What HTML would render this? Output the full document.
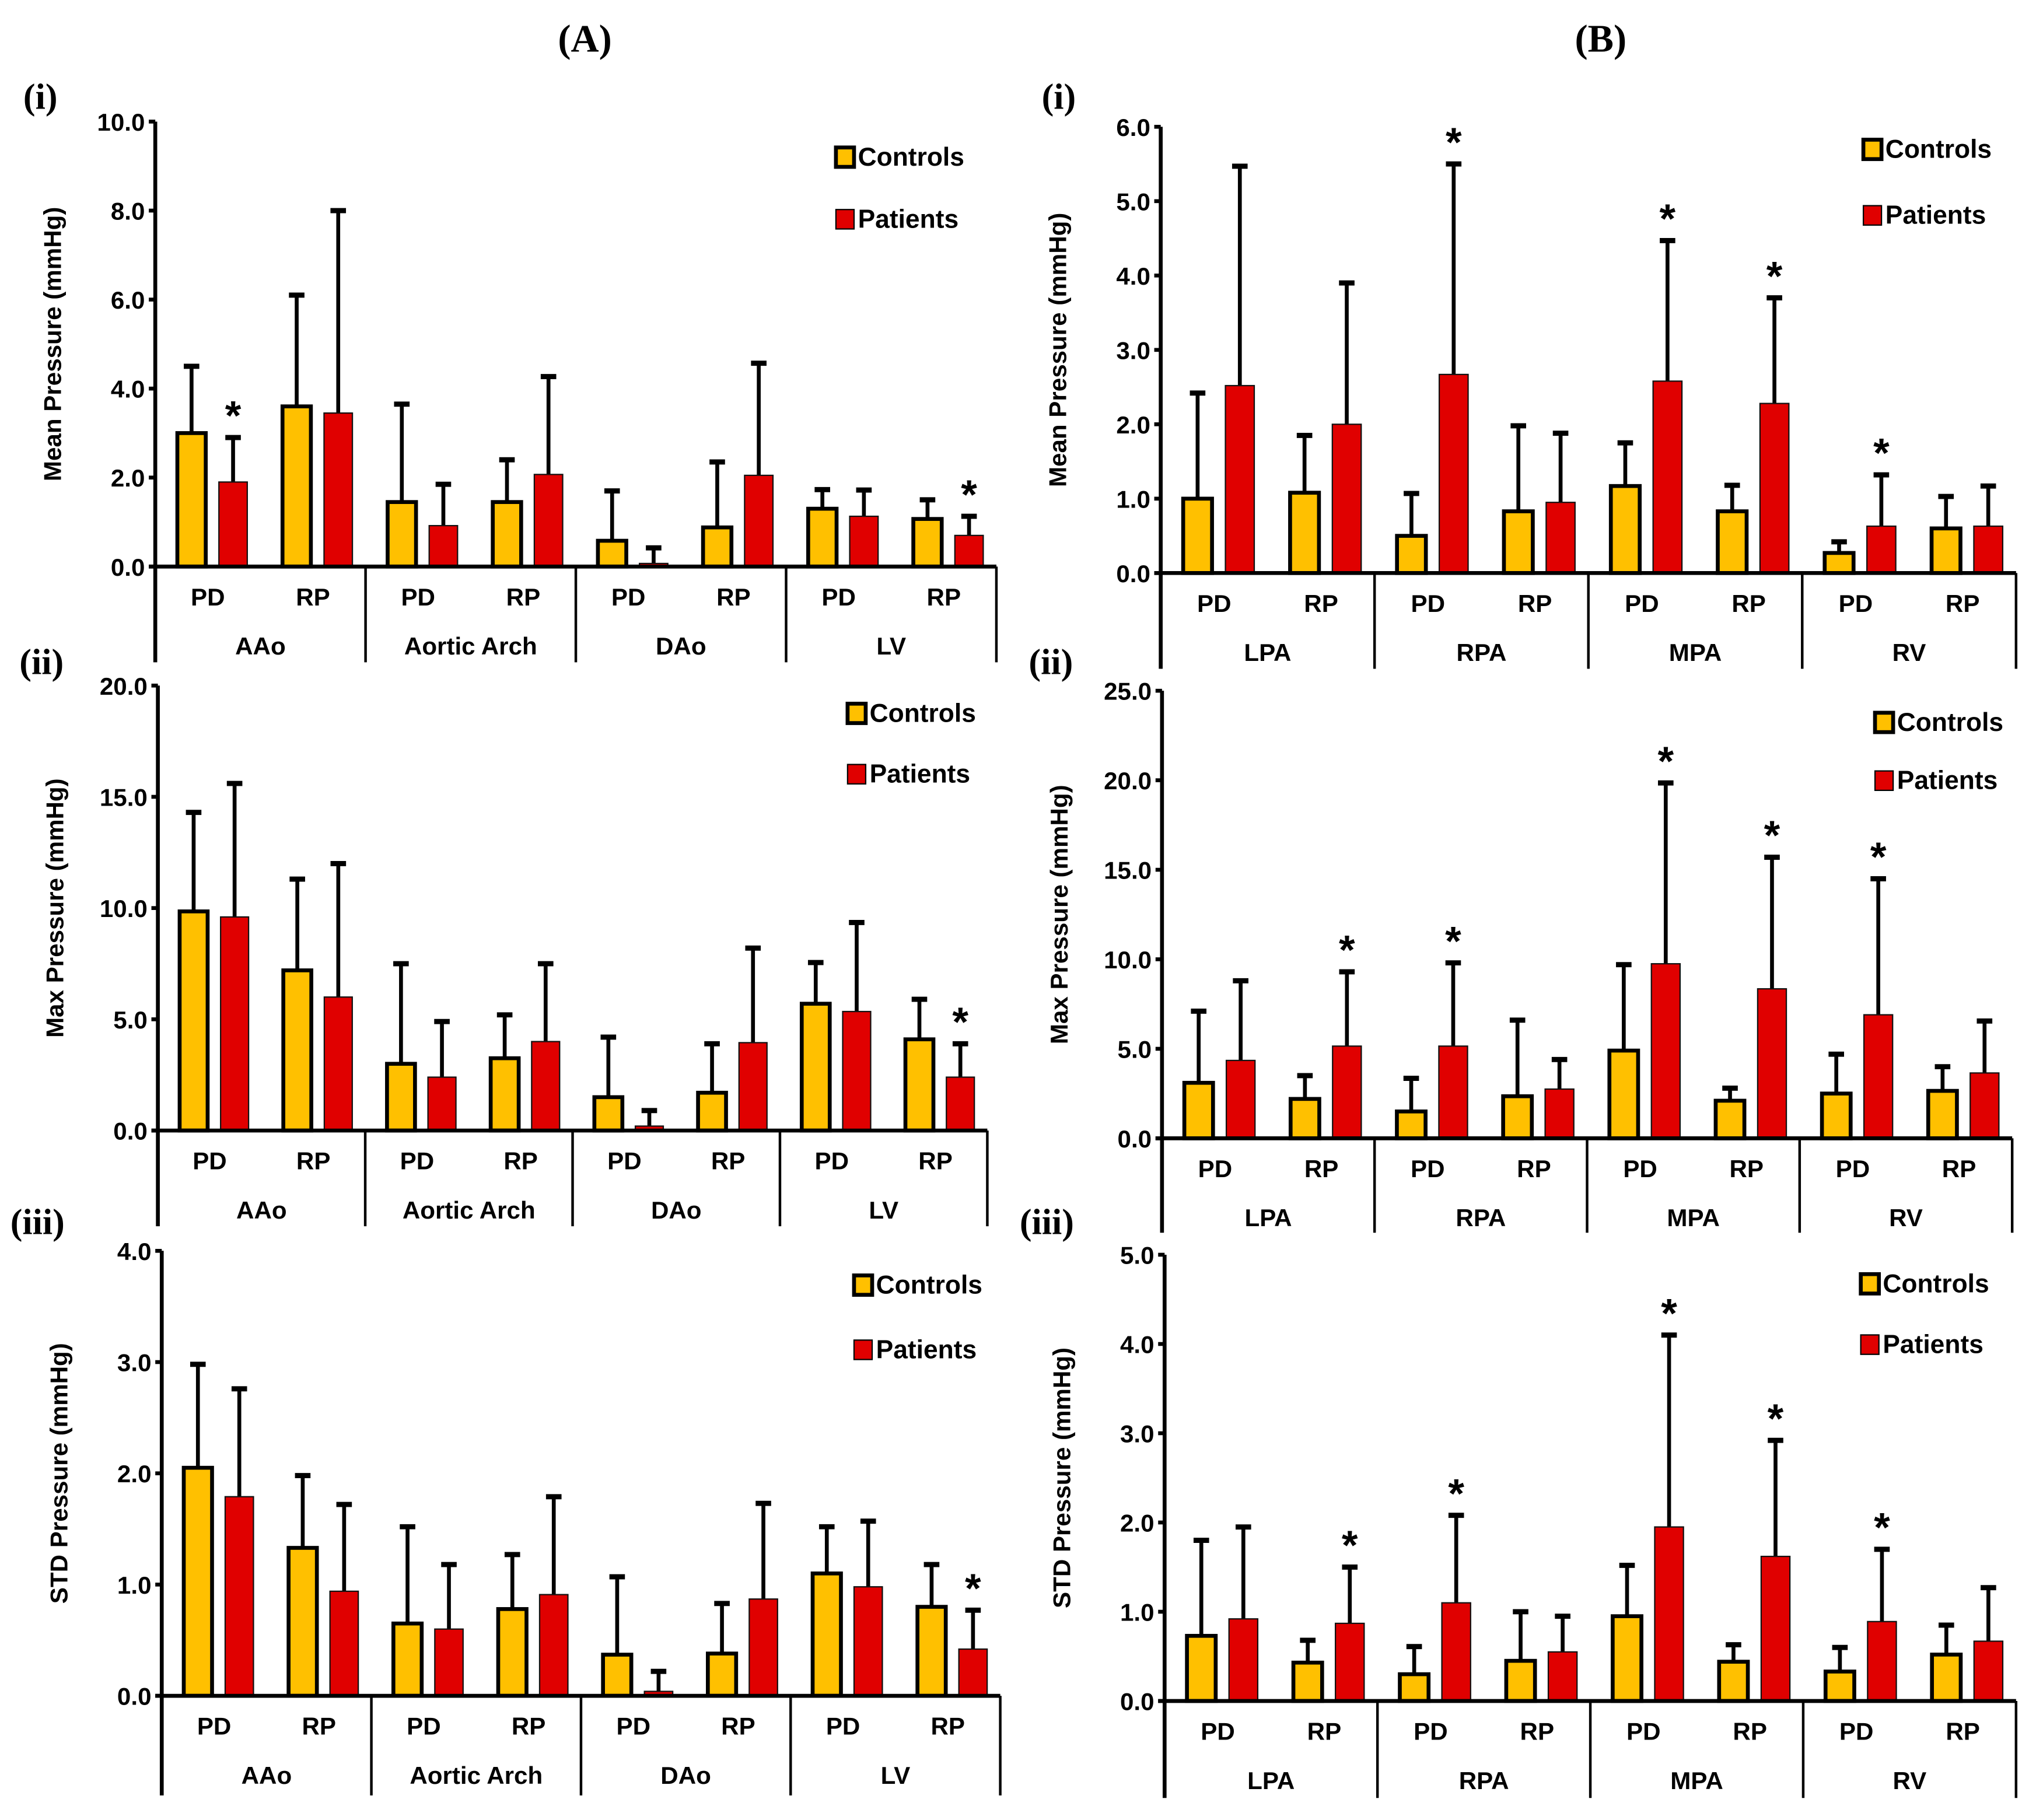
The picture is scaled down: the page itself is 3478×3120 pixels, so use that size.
<!DOCTYPE html>
<html><head><meta charset="utf-8"><style>
html,body{margin:0;padding:0;background:#fff}
svg{display:block}
text{font-family:"Liberation Sans",sans-serif;font-weight:bold;fill:#000}
.ser{font-family:"Liberation Serif",serif}
</style></head><body>
<svg id="fig" width="3478" height="3120" viewBox="0 0 1568 1407" preserveAspectRatio="none" xmlns="http://www.w3.org/2000/svg">
<text class="ser" x="452" y="40" font-size="30" text-anchor="middle">(A)</text>
<text class="ser" x="1237" y="40" font-size="30" text-anchor="middle">(B)</text>
</svg>
<script>
// ---- data ----
const groupsA = ["AAo","Aortic Arch","DAo","LV"];
const groupsB = ["LPA","RPA","MPA","RV"];
const subs = ["PD","RP"];
const aiC = [3.0,3.6,1.45,1.45,0.58,0.88,1.3,1.07];
const aiCe = [4.5,6.1,3.65,2.4,1.7,2.35,1.73,1.5];
const aiP = [1.9,3.45,0.92,2.07,0.07,2.05,1.13,0.7];
const aiPe = [2.9,8.0,1.85,4.27,0.42,4.57,1.72,1.13];
const aiS = [1,0,0,0,0,0,0,1];
const aiiC = [9.85,7.2,3.0,3.25,1.5,1.7,5.7,4.1];
const aiiCe = [14.3,11.3,7.5,5.2,4.2,3.9,7.55,5.9];
const aiiP = [9.6,6.0,2.4,4.0,0.2,3.95,5.35,2.4];
const aiiPe = [15.6,12.0,4.9,7.5,0.9,8.2,9.35,3.9];
const aiiS = [0,0,0,0,0,0,0,1];
const aiiiC = [2.05,1.33,0.65,0.78,0.37,0.38,1.1,0.8];
const aiiiCe = [2.98,1.98,1.52,1.27,1.07,0.83,1.52,1.18];
const aiiiP = [1.79,0.94,0.6,0.91,0.04,0.87,0.98,0.42];
const aiiiPe = [2.76,1.72,1.18,1.79,0.22,1.73,1.57,0.77];
const aiiiS = [0,0,0,0,0,0,0,1];
const biC = [1.0,1.08,0.5,0.83,1.17,0.83,0.27,0.6];
const biCe = [2.42,1.85,1.07,1.98,1.75,1.18,0.42,1.03];
const biP = [2.52,2.0,2.67,0.95,2.58,2.28,0.63,0.63];
const biPe = [5.47,3.9,5.5,1.88,4.47,3.7,1.32,1.17];
const biS = [0,0,1,0,1,1,1,0];
const biiC = [3.1,2.2,1.5,2.35,4.9,2.1,2.5,2.65];
const biiCe = [7.1,3.5,3.35,6.6,9.7,2.8,4.7,4.0];
const biiP = [4.35,5.15,5.15,2.75,9.75,8.35,6.9,3.65];
const biiPe = [8.8,9.3,9.8,4.4,19.85,15.7,14.5,6.55];
const biiS = [0,1,1,0,1,1,1,0];
const biiiC = [0.73,0.43,0.3,0.45,0.95,0.44,0.33,0.52];
const biiiCe = [1.8,0.68,0.61,1.0,1.52,0.63,0.6,0.85];
const biiiP = [0.92,0.87,1.1,0.55,1.95,1.62,0.89,0.67];
const biiiPe = [1.95,1.5,2.08,0.95,4.1,2.92,1.7,1.27];
const biiiS = [0,1,1,0,1,1,1,0];

const NS="http://www.w3.org/2000/svg";
const svg=document.getElementById('fig');
function mk(tag,attrs,parent,txt){const e=document.createElementNS(NS,tag);for(const k in attrs)e.setAttribute(k,attrs[k]);if(txt!==undefined)e.textContent=txt;(parent||svg).appendChild(e);return e;}

function panel(p){
  const g=mk('g',{});
  
  
  const ys=v=>p.y0-(v/p.max)*(p.y0-p.top);
  const L=mk('text',{x:p.lx,y:p.ly,'font-size':28,class:'ser'},g,p.label);
  
  
  for(let v=0;v<=p.max+1e-9;v+=p.step){
    const y=ys(v);
    mk('line',{x1:p.ax-5,x2:p.ax,y1:y,y2:y,stroke:'#000','stroke-width':3},g);
    const t=mk('text',{x:p.ax-8,y:y+7,'font-size':19,'text-anchor':'end'},g,v.toFixed(1));
    
    
  }
  const yt=mk('text',{transform:`translate(${p.ax-73},${(p.y0+p.top)/2}) rotate(-90)`,'font-size':19,'text-anchor':'middle'},g,p.ytitle);
  
  
  const W=(p.right-p.ax)/4, sw=W/2;
  for(let i=0;i<8;i++){
    const x0=p.ax+i*sw;
    const cx=x0+sw*0.345, px=x0+sw*0.74, bw=sw*0.27;
    [[cx,p.C[i],p.Ce[i]],[px,p.P[i],p.Pe[i]]].forEach(([x,v,e])=>{
      mk('line',{x1:x,x2:x,y1:ys(v),y2:ys(e),stroke:'#000','stroke-width':3},g);
      mk('line',{x1:x-6,x2:x+6,y1:ys(e),y2:ys(e),stroke:'#000','stroke-width':4},g);
    });
    const bc=mk('rect',{x:cx-bw/2,y:ys(p.C[i]),width:bw,height:p.y0-ys(p.C[i]),fill:'#FFC000',stroke:'#000','stroke-width':3},g);
    
    
    const bp=mk('rect',{x:px-bw/2,y:ys(p.P[i]),width:bw,height:p.y0-ys(p.P[i]),fill:'#E00000',stroke:'#111','stroke-width':1},g);
    
    
    if(p.S[i]){
      const s=mk('text',{x:px,y:ys(p.Pe[i])-6,'font-size':32,'text-anchor':'middle'},g,'*');
      
      
    }
    const sl=mk('text',{x:x0+sw/2,y:p.y0+30,'font-size':19,'text-anchor':'middle'},g,subs[i%2]);
    
    
  }
  for(let k=0;k<4;k++){
    const gl=mk('text',{x:p.ax+k*W+W/2,y:p.y0+68,'font-size':19,'text-anchor':'middle'},g,p.groups[k]);
    
    
  }
  for(let k=0;k<=4;k++){
    const x=p.ax+k*W;
    mk('line',{x1:x,x2:x,y1:k===0?p.top:p.y0,y2:p.bot,stroke:'#000','stroke-width':k===0?3:2},g);
  }
  mk('line',{x1:p.ax-5,x2:p.right,y1:p.y0,y2:p.y0,stroke:'#000','stroke-width':3},g);
  [['Controls','#FFC000',p.lg1,3],['Patients','#E00000',p.lg2,1]].forEach(([n,c,y,sw2])=>{
    const r=mk('rect',{x:p.lgx-7,y:y-7,width:14,height:15,fill:c,stroke:'#000','stroke-width':sw2},g);
    
    
    const t=mk('text',{x:p.lgx+10,y:y+7,'font-size':20},g,n);
    
    
  });
}
panel({name:'panel-a-i',label:'(i)',lx:18,ly:84,ax:120,y0:438,top:94,max:10,step:2,right:770,bot:512,lgx:653,lg1:121,lg2:169,ytitle:'Mean Pressure (mmHg)',groups:groupsA,C:aiC,Ce:aiCe,P:aiP,Pe:aiPe,S:aiS});
panel({name:'panel-a-ii',label:'(ii)',lx:15,ly:521,ax:122,y0:874,top:530,max:20,step:5,right:763,bot:948,lgx:662,lg1:551,lg2:598,ytitle:'Max Pressure (mmHg)',groups:groupsA,C:aiiC,Ce:aiiCe,P:aiiP,Pe:aiiPe,S:aiiS});
panel({name:'panel-a-iii',label:'(iii)',lx:8,ly:954,ax:125,y0:1311,top:967,max:4,step:1,right:773,bot:1388,lgx:667,lg1:993,lg2:1043,ytitle:'STD Pressure (mmHg)',groups:groupsA,C:aiiiC,Ce:aiiiCe,P:aiiiP,Pe:aiiiPe,S:aiiiS});
panel({name:'panel-b-i',label:'(i)',lx:805,ly:84,ax:897,y0:443,top:98,max:6,step:1,right:1558,bot:517,lgx:1447,lg1:115,lg2:166,ytitle:'Mean Pressure (mmHg)',groups:groupsB,C:biC,Ce:biCe,P:biP,Pe:biPe,S:biS});
panel({name:'panel-b-ii',label:'(ii)',lx:795,ly:521,ax:898,y0:880,top:534,max:25,step:5,right:1555,bot:953,lgx:1456,lg1:558,lg2:603,ytitle:'Max Pressure (mmHg)',groups:groupsB,C:biiC,Ce:biiCe,P:biiP,Pe:biiPe,S:biiS});
panel({name:'panel-b-iii',label:'(iii)',lx:788,ly:954,ax:900,y0:1315,top:970,max:5,step:1,right:1558,bot:1390,lgx:1445,lg1:992,lg2:1039,ytitle:'STD Pressure (mmHg)',groups:groupsB,C:biiiC,Ce:biiiCe,P:biiiP,Pe:biiiPe,S:biiiS});
</script>
</body></html>
